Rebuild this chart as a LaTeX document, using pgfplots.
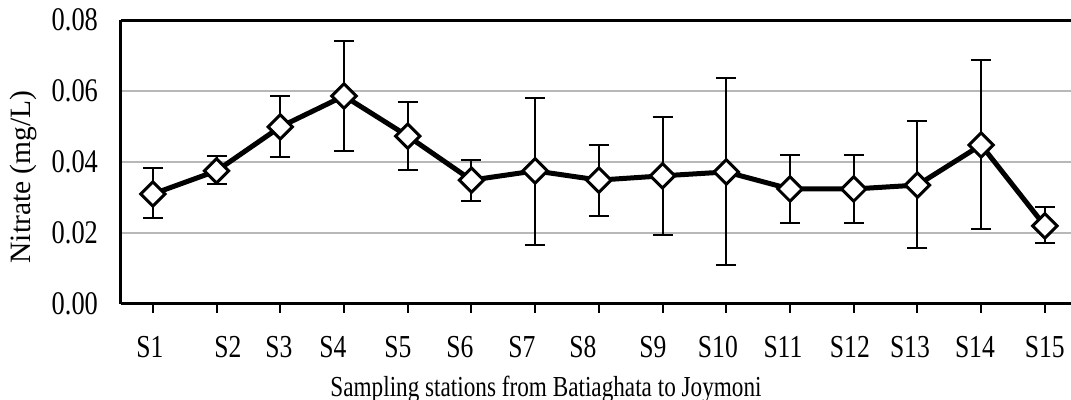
\documentclass[border=0pt]{standalone}
\usepackage{fontspec}
\setmainfont{Liberation Serif}[FakeStretch=0.8]
\newfontfamily\ylabfont{Liberation Serif}
\usepackage{pgfplots}
\pgfplotsset{compat=1.18}
\usepackage{pgfplotstable}

\pgfplotstableread{
x y ep em
0 0.0310 0.0073 0.0068
1 0.0375 0.0042 0.0037
2 0.0499 0.0087 0.0085
3 0.0586 0.0155 0.0155
4 0.0473 0.0096 0.0096
5 0.0349 0.0057 0.0059
6 0.0375 0.0205 0.0209
7 0.0349 0.0099 0.0101
8 0.0361 0.0166 0.0167
9 0.0372 0.0265 0.0262
10 0.0324 0.0096 0.0096
11 0.0324 0.0096 0.0096
12 0.0335 0.0180 0.0177
13 0.0448 0.0239 0.0237
14 0.0220 0.0053 0.0048
}\datatable

\begin{document}
\begin{tikzpicture}
\begin{axis}[
  scale only axis, width=475pt, height=142pt,
  xmin=-0.5, xmax=14.41, ymin=0, ymax=0.08,
  axis lines*=left,
  axis line style={black, line width=1.5pt},
  xtick={0,...,14}, xticklabels={},
  tick align=outside, major tick length=4.5pt,
  x tick style={black, line width=1pt},
  ytick={0,0.02,0.04,0.06,0.08}, y tick style={draw=none},
  scaled y ticks=false,
  ymajorgrids, grid style={black!28, line width=1pt},
  /pgf/number format/assume math mode=true,
  yticklabel style={/pgf/number format/fixed, /pgf/number format/fixed zerofill, /pgf/number format/precision=2,
    font=\fontsize{16.5}{16.5}\selectfont, anchor=east, xshift=-3.5pt},
  extra x ticks={-0.047,1.177,1.978,2.825,3.846,4.819,5.792,6.749,7.848,8.868,9.889,10.940,11.882,12.902,14.0},
  extra x tick labels={S1,S2,S3,S4,S5,S6,S7,S8,S9,S10,S11,S12,S13,S14,S15},
  extra x tick style={major tick length=0pt, tick style={draw=none}, grid=none},
  xticklabel style={font=\fontsize{16}{16}\selectfont, anchor=base, yshift=-27pt},
  xlabel={Sampling stations from Batiaghata to Joymoni},
  xlabel style={font=\fontsize{14.5}{14.5}\selectfont, at={(axis description cs:0.5,-0.324)}, anchor=base, xshift=-25pt},
  ylabel={\ylabfont Nitrate (mg/L)},
  ylabel style={font=\fontsize{14.75}{14.75}\selectfont, at={(axis description cs:-0.103,0.447)}, anchor=center},
  clip=false,
]
\draw[black, line width=1.5pt] (rel axis cs:0,1) -- (rel axis cs:1,1);
\addplot[black, line width=2.5pt, mark=square*, mark size=4.3pt,
  mark options={fill=white, line width=1.5pt, rotate=45},
  error bars/.cd, y dir=both, y explicit,
  error bar style={line width=1pt, black},
  error mark options={rotate=90, mark size=5pt, line width=1pt, black}]
  table[x=x, y=y, y error plus=ep, y error minus=em]{\datatable};
\end{axis}
\pgfresetboundingbox
\path (-60.5pt,-48pt) rectangle (475pt,152pt);
\end{tikzpicture}
\end{document}
